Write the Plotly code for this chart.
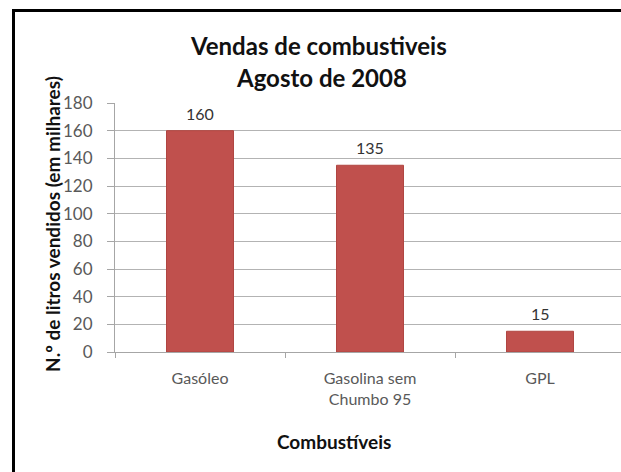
import plotly.graph_objects as go

categories = ["Gasóleo", "Gasolina sem<br>Chumbo 95", "GPL"]
values = [160, 135, 15]
y_ticks = [0, 20, 40, 60, 80, 100, 120, 140, 160, 180]

W, H = 621, 472
L, R, T, B = 115, 0, 103, 120
PW = W - L - R
PH = H - T - B

def px(x):
    return (x - L) / PW

def py(y):
    return (H - B - y) / PH

font_family = "Lato"

fig = go.Figure()
fig.add_trace(go.Bar(
    x=categories, y=values,
    marker=dict(color="#C0504D", line=dict(color="#B04541", width=1)),
    width=0.394,
    hoverinfo="skip",
))

for c, v in zip(categories, values):
    fig.add_annotation(x=c, y=v, text=str(v), showarrow=False,
                       yanchor="bottom", yshift=6,
                       font=dict(family=font_family, size=16, color="#333333"))

fig.add_annotation(xref="paper", yref="paper", x=px(318), y=py(45),
                   text="<b>Vendas de combustiveis</b>", showarrow=False,
                   font=dict(family=font_family, size=24, color="#111111"),
                   xanchor="center", yanchor="middle")
fig.add_annotation(xref="paper", yref="paper", x=px(321), y=py(77),
                   text="<b>Agosto de 2008</b>", showarrow=False,
                   font=dict(family=font_family, size=24, color="#111111"),
                   xanchor="center", yanchor="middle")
fig.add_annotation(xref="paper", yref="paper", x=px(52), y=py(224),
                   text="<b>N.º de litros vendidos (em milhares)</b>", showarrow=False,
                   textangle=-90,
                   font=dict(family=font_family, size=19, color="#111111"),
                   xanchor="center", yanchor="middle")
fig.add_annotation(xref="paper", yref="paper", x=px(334), y=py(441),
                   text="<b>Combustíveis</b>", showarrow=False,
                   font=dict(family=font_family, size=19, color="#111111"),
                   xanchor="center", yanchor="middle")

# outer chart frame (left and top edges)
fig.add_shape(type="line", xref="paper", yref="paper",
              x0=px(13.5), x1=px(13.5), y0=py(10.5), y1=py(H + 5),
              line=dict(color="#000000", width=3))
fig.add_shape(type="line", xref="paper", yref="paper",
              x0=px(12), x1=px(W + 5), y0=py(10.5), y1=py(10.5),
              line=dict(color="#000000", width=3))

fig.update_layout(
    width=W, height=H,
    margin=dict(l=L, r=R, t=T, b=B),
    paper_bgcolor="white", plot_bgcolor="white",
    showlegend=False,
    font=dict(family=font_family, color="#595959"),
    xaxis=dict(
        range=[-0.5, 2.5 - 4 / 170],
        showline=True, linecolor="#A6A6A6", linewidth=1,
        ticks="outside", tickson="boundaries", ticklen=5, tickcolor="#A6A6A6",
        tickfont=dict(family=font_family, size=16, color="#595959"),
        ticklabelstandoff=12,
        showgrid=False, zeroline=False, fixedrange=True,
    ),
    yaxis=dict(
        range=[0, 180],
        tickvals=y_ticks,
        showline=True, linecolor="#A6A6A6", linewidth=1,
        ticks="outside", ticklen=7, tickcolor="#A6A6A6",
        tickfont=dict(family=font_family, size=17, color="#595959"),
        ticklabelstandoff=11,
        showgrid=True, gridcolor="#B3B3B3", gridwidth=1,
        zeroline=False, fixedrange=True,
    ),
)

fig.write_html("out.html", config={"displayModeBar": False},
               post_script="document.body.style.margin='0';document.body.style.overflow='hidden';")
